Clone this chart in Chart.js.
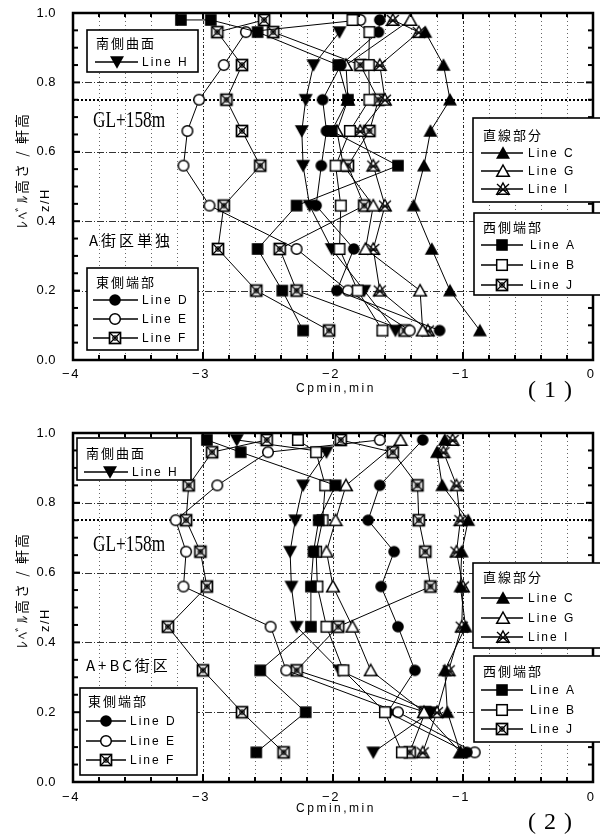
<!DOCTYPE html>
<html>
<head>
<meta charset="utf-8">
<script src="https://cdn.jsdelivr.net/npm/chart.js@4.4.1/dist/chart.umd.min.js"></script>
<style>
  html, body { margin: 0; padding: 0; background: #fff; }
  #wrap { position: relative; width: 600px; height: 836px; overflow: hidden; }
  #wrap canvas { position: absolute; left: 0; }
</style>
</head>
<body>
<div id="wrap">
  <canvas id="c1" width="600" height="418" style="top:0px"></canvas>
  <canvas id="c2" width="600" height="418" style="top:418px"></canvas>
</div>
<script>
// ---- axis ticks ----
const X_TICKS = [-4, -3, -2, -1, 0];
const X_TICK_LABELS = ['\u22124', '\u22123', '\u22122', '\u22121', '0'];
const Y_TICKS = [0, 0.2, 0.4, 0.6, 0.8, 1.0];
const Y_TICK_LABELS = ['0.0', '0.2', '0.4', '0.6', '0.8', '1.0'];
const GL_LEVEL = 0.75;

// ---- line names ----
const LINE_NAMES = ['A', 'B', 'C', 'D', 'E', 'F', 'G', 'H', 'I', 'J'];

// ---- (1) A街区単独 : [Cpmin,min, z/H] ----
const P1_A = [[-2.23,0.085],[-2.39,0.2],[-2.58,0.32],[-2.28,0.445],[-1.50,0.56],[-2.01,0.66],[-1.885,0.75],[-1.96,0.85],[-2.58,0.945],[-2.94,0.98],[-3.17,0.98]];
const P1_B = [[-1.62,0.085],[-1.81,0.2],[-1.95,0.32],[-1.94,0.445],[-1.98,0.56],[-1.87,0.66],[-1.72,0.75],[-1.725,0.85],[-1.72,0.945],[-1.85,0.98]];
const P1_C = [[-0.87,0.085],[-1.10,0.2],[-1.24,0.32],[-1.38,0.445],[-1.30,0.56],[-1.25,0.66],[-1.10,0.75],[-1.15,0.85],[-1.29,0.945]];
const P1_D = [[-1.18,0.085],[-1.97,0.2],[-1.84,0.32],[-2.13,0.445],[-2.09,0.56],[-2.05,0.66],[-2.08,0.75],[-1.94,0.85],[-1.65,0.945],[-1.64,0.98]];
const P1_E = [[-1.41,0.085],[-1.885,0.2],[-2.28,0.32],[-2.95,0.445],[-3.15,0.56],[-3.12,0.66],[-3.03,0.75],[-2.84,0.85],[-2.67,0.945],[-1.79,0.98]];
const P1_F = [[-2.03,0.085],[-2.59,0.2],[-2.885,0.32],[-2.84,0.445],[-2.56,0.56],[-2.70,0.66],[-2.82,0.75],[-2.70,0.85],[-2.89,0.945],[-2.53,0.98]];
const P1_G = [[-1.31,0.085],[-1.33,0.2],[-1.75,0.32],[-1.69,0.445],[-1.92,0.56],[-1.97,0.66],[-1.885,0.75],[-1.90,0.85],[-1.405,0.98]];
const P1_H = [[-1.52,0.085],[-1.76,0.2],[-2.01,0.32],[-2.18,0.445],[-2.23,0.56],[-2.24,0.66],[-2.21,0.75],[-2.15,0.85],[-1.95,0.945]];
const P1_I = [[-1.27,0.085],[-1.64,0.2],[-1.69,0.32],[-1.60,0.445],[-1.69,0.56],[-1.79,0.66],[-1.60,0.75],[-1.64,0.85],[-1.34,0.945],[-1.54,0.98]];
const P1_J = [[-1.45,0.085],[-2.28,0.2],[-2.41,0.32],[-1.76,0.445],[-1.885,0.56],[-1.72,0.66],[-1.65,0.75],[-1.79,0.85],[-2.46,0.945]];

// ---- (2) A+BC街区 : [Cpmin,min, z/H] ----
const P2_A = [[-2.59,0.085],[-2.21,0.2],[-2.56,0.32],[-2.17,0.445],[-2.17,0.56],[-2.15,0.66],[-2.11,0.75],[-1.98,0.85],[-2.71,0.945],[-2.97,0.98]];
const P2_B = [[-1.47,0.085],[-1.60,0.2],[-1.92,0.32],[-2.05,0.445],[-2.12,0.56],[-2.13,0.66],[-2.08,0.75],[-2.06,0.85],[-2.13,0.945],[-2.27,0.98]];
const P2_C = [[-1.02,0.085],[-1.12,0.2],[-1.14,0.32],[-0.98,0.445],[-1.02,0.56],[-1.01,0.66],[-0.96,0.75],[-1.16,0.85],[-1.20,0.945],[-1.14,0.98]];
const P2_D = [[-0.97,0.085],[-1.58,0.2],[-1.37,0.32],[-1.50,0.445],[-1.63,0.56],[-1.53,0.66],[-1.73,0.75],[-1.64,0.85],[-1.31,0.98]];
const P2_E = [[-0.91,0.085],[-1.50,0.2],[-2.36,0.32],[-2.48,0.445],[-3.15,0.56],[-3.13,0.66],[-3.21,0.75],[-2.89,0.85],[-2.50,0.945],[-1.64,0.98]];
const P2_F = [[-2.38,0.085],[-2.70,0.2],[-3.00,0.32],[-3.27,0.445],[-2.97,0.56],[-3.02,0.66],[-3.13,0.75],[-3.11,0.85],[-2.93,0.945],[-2.51,0.98]];
const P2_G = [[-1.02,0.085],[-1.30,0.2],[-1.71,0.32],[-1.85,0.445],[-2.00,0.56],[-2.05,0.66],[-1.98,0.75],[-1.90,0.85],[-1.48,0.98]];
const P2_H = [[-1.69,0.085],[-1.25,0.2],[-1.95,0.32],[-2.28,0.445],[-2.32,0.56],[-2.33,0.66],[-2.29,0.75],[-2.23,0.85],[-2.05,0.945],[-2.74,0.98]];
const P2_I = [[-1.31,0.085],[-1.20,0.2],[-1.11,0.32],[-1.01,0.445],[-1.00,0.56],[-1.05,0.66],[-1.02,0.75],[-1.05,0.85],[-1.15,0.945],[-1.08,0.98]];
const P2_J = [[-1.41,0.085],[-1.29,0.2],[-2.28,0.32],[-1.96,0.445],[-1.25,0.56],[-1.29,0.66],[-1.34,0.75],[-1.35,0.85],[-1.54,0.945],[-1.94,0.98]];

// ---- marker glyphs ----
const MARKER_OF = { A:'sqFill', B:'sqOpen', C:'triFill', D:'cirFill', E:'cirOpen', F:'sqX', G:'triOpen', H:'triDown', I:'triX', J:'sqX' };

function makeMarker(kind) {
  const c = document.createElement('canvas');
  c.width = 16; c.height = 16;
  const g = c.getContext('2d');
  g.strokeStyle = '#000'; g.fillStyle = '#000'; g.lineWidth = 1.4;
  const tri = (pts) => { g.beginPath(); g.moveTo(pts[0][0], pts[0][1]); g.lineTo(pts[1][0], pts[1][1]); g.lineTo(pts[2][0], pts[2][1]); g.closePath(); };
  switch (kind) {
    case 'sqFill': g.fillRect(2.2, 2.2, 11.6, 11.6); break;
    case 'sqOpen': g.fillStyle = '#fff'; g.fillRect(2.7, 2.7, 10.6, 10.6); g.lineWidth = 1.5; g.strokeRect(2.7, 2.7, 10.6, 10.6); break;
    case 'cirFill': g.beginPath(); g.arc(8, 8, 5.8, 0, Math.PI * 2); g.fill(); break;
    case 'cirOpen': g.beginPath(); g.arc(8, 8, 5.3, 0, Math.PI * 2); g.fillStyle = '#fff'; g.fill(); g.lineWidth = 1.5; g.stroke(); break;
    case 'triFill': tri([[8, 1.2], [15, 13.8], [1, 13.8]]); g.fill(); break;
    case 'triOpen': tri([[8, 2], [14.3, 13.3], [1.7, 13.3]]); g.fillStyle = '#fff'; g.fill(); g.lineWidth = 1.5; g.stroke(); break;
    case 'triDown': tri([[1, 2.2], [15, 2.2], [8, 14.8]]); g.fill(); break;
    case 'sqX':
      g.fillStyle = '#fff'; g.fillRect(2.5, 2.5, 11, 11);
      g.lineWidth = 1.7; g.strokeRect(2.5, 2.5, 11, 11);
      g.lineWidth = 1.2; g.beginPath();
      g.moveTo(3, 3); g.lineTo(13, 13); g.moveTo(13, 3); g.lineTo(3, 13); g.stroke();
      g.beginPath(); g.arc(8, 8, 2.2, 0, Math.PI * 2); g.stroke();
      break;
    case 'triX':
      tri([[8, 2], [14.3, 13.3], [1.7, 13.3]]); g.fillStyle = '#fff'; g.fill(); g.stroke();
      g.lineWidth = 1.3; g.beginPath();
      g.moveTo(2, 3); g.lineTo(14, 14); g.moveTo(14, 3); g.lineTo(2, 14);
      g.moveTo(4, 9); g.lineTo(12, 9); g.stroke();
      break;
  }
  return c;
}
const MARKERS = {};
['sqFill','sqOpen','cirFill','cirOpen','triFill','triOpen','triDown','sqX','triX'].forEach(k => MARKERS[k] = makeMarker(k));

function toPoints(pairs) { return pairs.map(p => ({ x: p[0], y: p[1] })); }

function buildDatasets(seriesMap) {
  return LINE_NAMES.map(n => ({
    label: 'Line ' + n,
    data: toPoints(seriesMap[n]),
    showLine: true,
    borderColor: '#000',
    borderWidth: 1,
    pointStyle: MARKERS[MARKER_OF[n]],
    pointRadius: 6,
    tension: 0,
    clip: false
  }));
}

// ---- axes, grid, frame, legends and labels ----
function line(ctx, x1, y1, x2, y2) { ctx.beginPath(); ctx.moveTo(x1, y1); ctx.lineTo(x2, y2); ctx.stroke(); }

const decorPlugin = {
  id: 'panelDecor',
  beforeDatasetsDraw(chart) {
    const { ctx, chartArea: a, scales: { x, y } } = chart;
    ctx.save();
    ctx.lineWidth = 1;
    // vertical grid every 0.2
    for (let i = 1; i < 20; i++) {
      const v = -4 + i * 0.2;
      const px = Math.round(x.getPixelForValue(v)) + 0.5;
      const major = i % 5 === 0;
      ctx.strokeStyle = major ? '#222' : '#666';
      ctx.setLineDash(major ? [3, 2, 1, 2] : [1, 3]);
      line(ctx, px, a.top, px, a.bottom);
    }
    // horizontal grid
    ctx.strokeStyle = '#333';
    ctx.setLineDash([7, 2, 1, 2]);
    [0.2, 0.4, 0.6, 0.8].forEach(v => {
      const py = Math.round(y.getPixelForValue(v)) + 0.5;
      line(ctx, a.left, py, a.right, py);
    });
    // GL+158m level
    ctx.strokeStyle = '#000';
    ctx.lineWidth = 2;
    ctx.setLineDash([2, 2]);
    const pg = Math.round(y.getPixelForValue(GL_LEVEL));
    line(ctx, a.left, pg, a.right, pg);
    ctx.restore();
  },
  afterDatasetsDraw(chart) {
    const o = chart.options.plugins.panelDecor;
    const { ctx, chartArea: a, scales: { x, y } } = chart;
    ctx.save();
    ctx.setLineDash([]);
    ctx.strokeStyle = '#000';
    ctx.fillStyle = '#000';

    // frame
    ctx.lineWidth = 2.5;
    ctx.strokeRect(a.left, a.top, a.right - a.left, a.bottom - a.top);

    // x ticks (bottom: minor 0.2, major 1.0; top: 0.2)
    ctx.lineWidth = 2;
    for (let i = 0; i <= 20; i++) {
      const px = x.getPixelForValue(-4 + i * 0.2);
      const major = i % 5 === 0;
      line(ctx, px, a.bottom, px, a.bottom - (major ? 8 : 5));
      line(ctx, px, a.top, px, a.top + (major ? 6 : 4));
    }
    // y ticks every 0.05 on both sides
    for (let i = 0; i <= 20; i++) {
      const py = y.getPixelForValue(i * 0.05);
      const major = i % 4 === 0;
      line(ctx, a.left, py, a.left + (major ? 7 : 5), py);
      line(ctx, a.right, py, a.right - (major ? 7 : 5), py);
    }

    // tick labels
    ctx.font = '13px "Liberation Sans", Arial, sans-serif';
    ctx.textBaseline = 'middle';
    ctx.textAlign = 'right';
    ctx.letterSpacing = '0.5px';
    Y_TICKS.forEach((v, i) => ctx.fillText(Y_TICK_LABELS[i], a.left - 17, y.getPixelForValue(v)));
    ctx.textAlign = 'center';
    ctx.letterSpacing = '1.5px';
    X_TICKS.forEach((v, i) => ctx.fillText(X_TICK_LABELS[i], x.getPixelForValue(v) - 2, o.xLabelY));

    // axis titles
    ctx.font = '12px "Liberation Sans", Arial, sans-serif';
    ctx.letterSpacing = '2.5px';
    ctx.fillText('Cpmin,min', 336, o.xTitleY);

    ctx.save();
    ctx.translate(22, o.yTitleY);
    ctx.rotate(-Math.PI / 2);
    ctx.font = '14px "Noto Sans CJK JP", sans-serif';
    ctx.letterSpacing = '2px';
    ctx.fillText('ﾚﾍﾞﾙ高さ / 軒高', 0, 0);
    ctx.restore();
    ctx.save();
    ctx.translate(45, o.yTitleY + 30);
    ctx.rotate(-Math.PI / 2);
    ctx.font = '13px "Liberation Sans", Arial, sans-serif';
    ctx.letterSpacing = '1.5px';
    ctx.fillText('z/H', 0, 0);
    ctx.restore();

    // panel number
    ctx.font = '24px "Liberation Serif", "DejaVu Serif", serif';
    ctx.letterSpacing = '8px';
    ctx.fillText('(' + o.panelNo + ')', 554, o.panelNoY);

    // GL+158m, condensed serif
    ctx.save();
    ctx.translate(o.glX, o.glY);
    ctx.scale(0.72, 1);
    ctx.textAlign = 'left';
    ctx.letterSpacing = '0px';
    ctx.font = '24px "Liberation Serif", "DejaVu Serif", serif';
    ctx.fillText('GL+158m', 0, 0);
    ctx.restore();

    // case label
    ctx.textAlign = 'left';
    ctx.font = '15px "Noto Sans CJK JP", sans-serif';
    ctx.letterSpacing = '3px';
    ctx.fillText(o.caseLabel, o.caseX, o.caseY);

    // legends
    o.legends.forEach(L => {
      const [l, t, r, b] = L.box;
      ctx.fillStyle = '#fff';
      ctx.fillRect(l, t, r - l, b - t);
      ctx.lineWidth = 1.6;
      ctx.strokeStyle = '#000';
      ctx.strokeRect(l, t, r - l, b - t);
      ctx.fillStyle = '#000';
      ctx.textAlign = 'left';
      ctx.font = '13px "Noto Sans CJK JP", sans-serif';
      ctx.letterSpacing = '2px';
      ctx.fillText(L.title, L.titleX, L.titleY);
      ctx.font = '12px "Liberation Sans", Arial, sans-serif';
      ctx.letterSpacing = '2px';
      L.items.forEach(it => {
        ctx.lineWidth = 1.3;
        line(ctx, L.lineX[0], it.y, L.lineX[1], it.y);
        const m = MARKERS[MARKER_OF[it.name]];
        ctx.drawImage(m, L.markX - 8, it.y - 8);
        ctx.fillText('Line ' + it.name, L.textX, it.y + 1);
      });
    });
    ctx.restore();
  }
};

function makeChart(canvasId, seriesMap, pad, decor) {
  return new Chart(document.getElementById(canvasId), {
    type: 'scatter',
    data: { datasets: buildDatasets(seriesMap) },
    options: {
      responsive: false,
      animation: false,
      events: [],
      devicePixelRatio: 1,
      layout: { padding: pad },
      scales: {
        x: { type: 'linear', min: -4, max: 0, display: false },
        y: { type: 'linear', min: 0, max: 1, display: false }
      },
      plugins: { legend: { display: false }, tooltip: { enabled: false }, panelDecor: decor }
    },
    plugins: [decorPlugin]
  });
}

makeChart('c1',
  { A: P1_A, B: P1_B, C: P1_C, D: P1_D, E: P1_E, F: P1_F, G: P1_G, H: P1_H, I: P1_I, J: P1_J },
  { left: 73, right: 3, top: 13, bottom: 58 },
  {
    panelNo: '1', panelNoY: 391, xLabelY: 374, xTitleY: 389, yTitleY: 170,
    glX: 93, glY: 121, caseLabel: 'A街区単独', caseX: 89, caseY: 240,
    legends: [
      { box: [87, 30, 198, 72], title: '南側曲面', titleX: 96, titleY: 43, lineX: [95, 138], markX: 117, textX: 142, items: [{ name: 'H', y: 62 }] },
      { box: [473, 118, 603, 202], title: '直線部分', titleX: 483, titleY: 135, lineX: [481, 523], markX: 503, textX: 528, items: [{ name: 'C', y: 153 }, { name: 'G', y: 171 }, { name: 'I', y: 189 }] },
      { box: [474, 213, 603, 295], title: '西側端部', titleX: 483, titleY: 227, lineX: [481, 523], markX: 502, textX: 530, items: [{ name: 'A', y: 245 }, { name: 'B', y: 265 }, { name: 'J', y: 285 }] },
      { box: [87, 268, 198, 350], title: '東側端部', titleX: 96, titleY: 282, lineX: [93, 138], markX: 115, textX: 142, items: [{ name: 'D', y: 300 }, { name: 'E', y: 319 }, { name: 'F', y: 338 }] }
    ]
  });

makeChart('c2',
  { A: P2_A, B: P2_B, C: P2_C, D: P2_D, E: P2_E, F: P2_F, G: P2_G, H: P2_H, I: P2_I, J: P2_J },
  { left: 73, right: 3, top: 15, bottom: 54 },
  {
    panelNo: '2', panelNoY: 405, xLabelY: 379, xTitleY: 391, yTitleY: 172,
    glX: 93, glY: 127, caseLabel: 'A+BC街区', caseX: 86, caseY: 247,
    legends: [
      { box: [77, 20, 191, 62], title: '南側曲面', titleX: 86, titleY: 35, lineX: [84, 128], markX: 110, textX: 132, items: [{ name: 'H', y: 54 }] },
      { box: [473, 145, 603, 230], title: '直線部分', titleX: 483, titleY: 159, lineX: [481, 523], markX: 503, textX: 528, items: [{ name: 'C', y: 180 }, { name: 'G', y: 200 }, { name: 'I', y: 219 }] },
      { box: [474, 238, 603, 324], title: '西側端部', titleX: 483, titleY: 253, lineX: [481, 523], markX: 502, textX: 530, items: [{ name: 'A', y: 272 }, { name: 'B', y: 292 }, { name: 'J', y: 311 }] },
      { box: [80, 270, 197, 357], title: '東側端部', titleX: 88, titleY: 283, lineX: [86, 126], markX: 106, textX: 130, items: [{ name: 'D', y: 303 }, { name: 'E', y: 323 }, { name: 'F', y: 342 }] }
    ]
  });
</script>
</body>
</html>
